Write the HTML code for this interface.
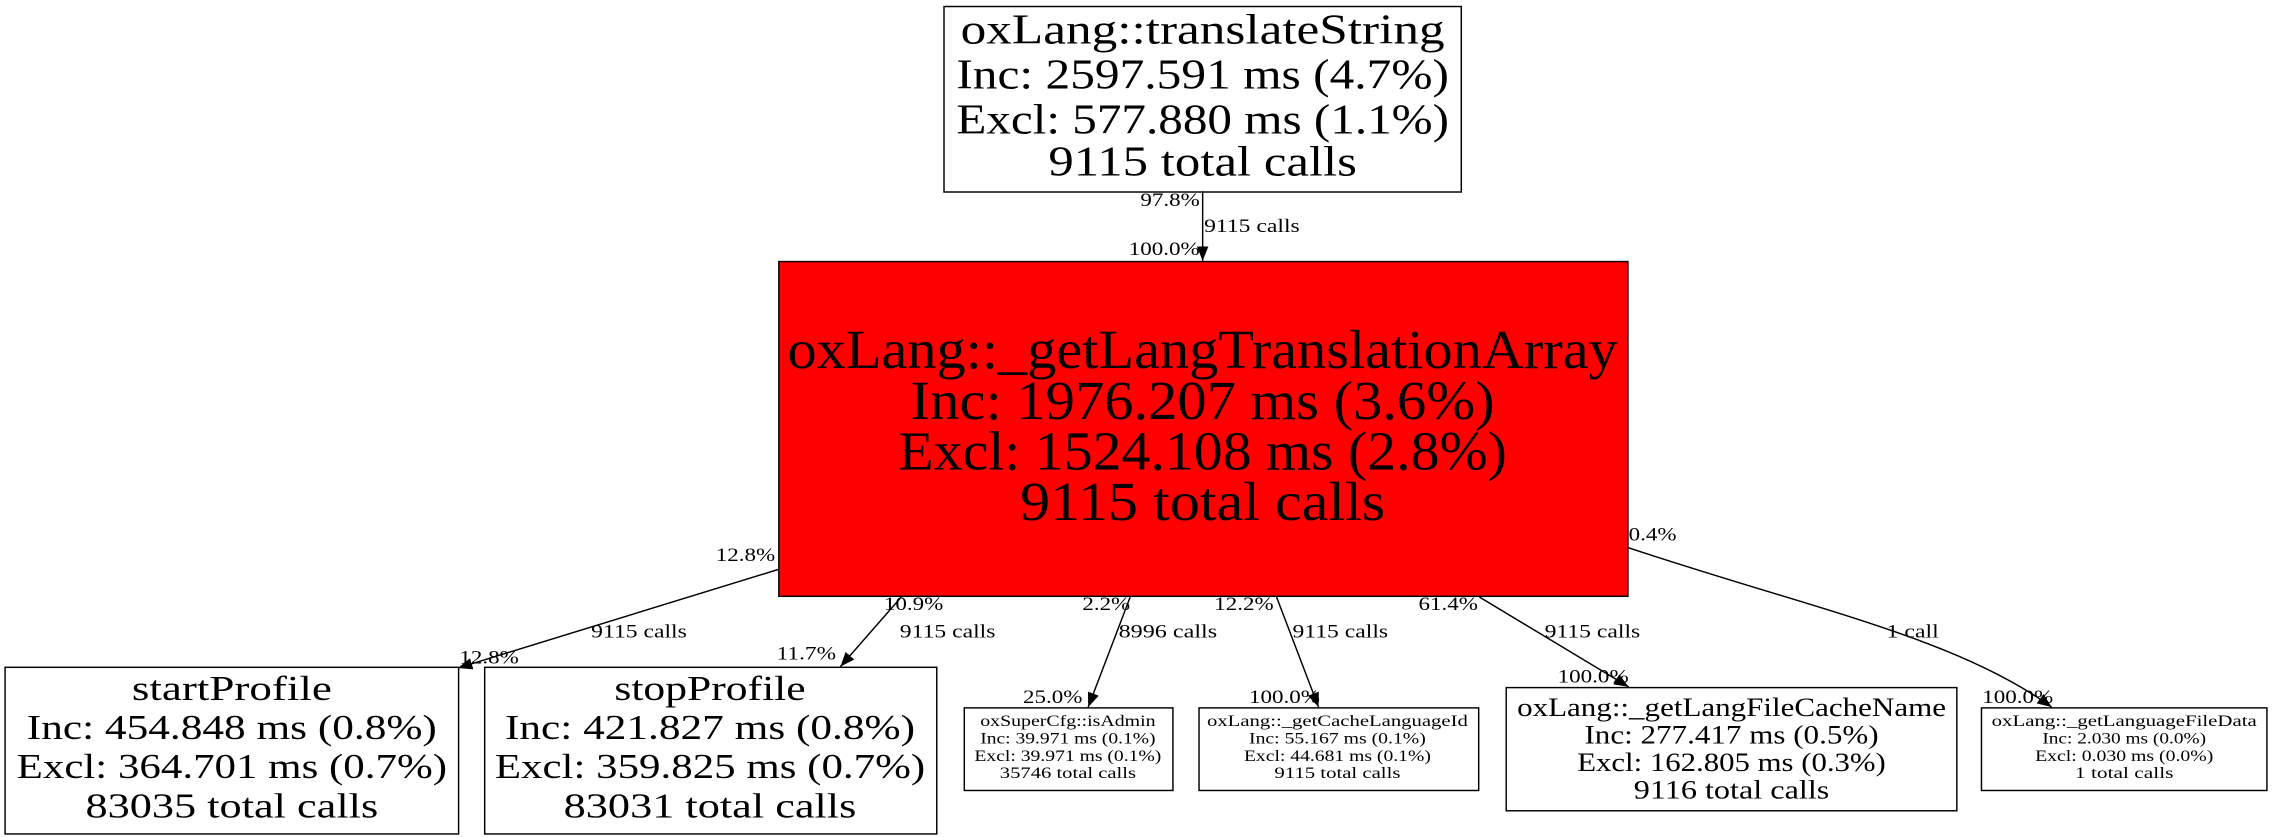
<!DOCTYPE html>
<html><head><meta charset="utf-8"><style>
html,body{margin:0;padding:0;background:#fff;}
svg{display:block;}
text{font-family:"Liberation Serif",serif;fill:#000;}
.b{fill:#fff;stroke:#000;stroke-width:1;}
.e{fill:none;stroke:#000;stroke-width:1;}
</style></head><body>
<svg width="2272" height="837" viewBox="0 0 1568 577.6" preserveAspectRatio="none">
<defs><marker id="a" markerWidth="10" markerHeight="8" refX="10" refY="4" orient="auto" markerUnits="userSpaceOnUse"><path d="M0,0L10,4L0,8z" fill="#000"/></marker></defs>

<rect class="b" x="651.5" y="4.5" width="357" height="128"/>
<g font-size="29" text-anchor="middle" lengthAdjust="spacingAndGlyphs">
<text x="830" y="30" textLength="334" lengthAdjust="spacingAndGlyphs">oxLang::translateString</text>
<text x="830" y="61" textLength="340" lengthAdjust="spacingAndGlyphs">Inc: 2597.591 ms (4.7%)</text>
<text x="830" y="92" textLength="340" lengthAdjust="spacingAndGlyphs">Excl: 577.880 ms (1.1%)</text>
<text x="830" y="121" textLength="213" lengthAdjust="spacingAndGlyphs">9115 total calls</text>
</g>

<rect x="537.5" y="180.5" width="586" height="231" fill="#ff0000" stroke="#000"/>
<g font-size="38" text-anchor="middle">
<text x="830" y="254" textLength="573" lengthAdjust="spacingAndGlyphs">oxLang::_getLangTranslationArray</text>
<text x="830" y="289" textLength="403" lengthAdjust="spacingAndGlyphs">Inc: 1976.207 ms (3.6%)</text>
<text x="830" y="324" textLength="420" lengthAdjust="spacingAndGlyphs">Excl: 1524.108 ms (2.8%)</text>
<text x="830" y="359" textLength="252" lengthAdjust="spacingAndGlyphs">9115 total calls</text>
</g>

<rect class="b" x="3.5" y="460.5" width="313" height="115"/>
<g font-size="24" text-anchor="middle">
<text x="160" y="483" textLength="138" lengthAdjust="spacingAndGlyphs">startProfile</text>
<text x="160" y="510" textLength="283" lengthAdjust="spacingAndGlyphs">Inc: 454.848 ms (0.8%)</text>
<text x="160" y="537" textLength="297" lengthAdjust="spacingAndGlyphs">Excl: 364.701 ms (0.7%)</text>
<text x="160" y="564" textLength="202" lengthAdjust="spacingAndGlyphs">83035 total calls</text>
</g>
<rect class="b" x="334.5" y="460.5" width="312" height="115"/>
<g font-size="24" text-anchor="middle">
<text x="490" y="483" textLength="132" lengthAdjust="spacingAndGlyphs">stopProfile</text>
<text x="490" y="510" textLength="283" lengthAdjust="spacingAndGlyphs">Inc: 421.827 ms (0.8%)</text>
<text x="490" y="537" textLength="297" lengthAdjust="spacingAndGlyphs">Excl: 359.825 ms (0.7%)</text>
<text x="490" y="564" textLength="202" lengthAdjust="spacingAndGlyphs">83031 total calls</text>
</g>

<rect class="b" x="665.5" y="488.5" width="144" height="57"/>
<g font-size="11" text-anchor="middle">
<text x="737" y="501" textLength="121" lengthAdjust="spacingAndGlyphs">oxSuperCfg::isAdmin</text>
<text x="737" y="513" textLength="121" lengthAdjust="spacingAndGlyphs">Inc: 39.971 ms (0.1%)</text>
<text x="737" y="525" textLength="129" lengthAdjust="spacingAndGlyphs">Excl: 39.971 ms (0.1%)</text>
<text x="737" y="537" textLength="94" lengthAdjust="spacingAndGlyphs">35746 total calls</text>
</g>
<rect class="b" x="827.5" y="488.5" width="193" height="57"/>
<g font-size="11" text-anchor="middle">
<text x="923" y="501" textLength="180" lengthAdjust="spacingAndGlyphs">oxLang::_getCacheLanguageId</text>
<text x="923" y="513" textLength="122" lengthAdjust="spacingAndGlyphs">Inc: 55.167 ms (0.1%)</text>
<text x="923" y="525" textLength="129" lengthAdjust="spacingAndGlyphs">Excl: 44.681 ms (0.1%)</text>
<text x="923" y="537" textLength="87" lengthAdjust="spacingAndGlyphs">9115 total calls</text>
</g>
<rect class="b" x="1039.5" y="474.5" width="311" height="85"/>
<g font-size="18" text-anchor="middle">
<text x="1195" y="494" textLength="296" lengthAdjust="spacingAndGlyphs">oxLang::_getLangFileCacheName</text>
<text x="1195" y="513" textLength="203" lengthAdjust="spacingAndGlyphs">Inc: 277.417 ms (0.5%)</text>
<text x="1195" y="532" textLength="213" lengthAdjust="spacingAndGlyphs">Excl: 162.805 ms (0.3%)</text>
<text x="1195" y="551" textLength="135" lengthAdjust="spacingAndGlyphs">9116 total calls</text>
</g>
<rect class="b" x="1367.5" y="488.5" width="197" height="57"/>
<g font-size="11" text-anchor="middle">
<text x="1466" y="501" textLength="183" lengthAdjust="spacingAndGlyphs">oxLang::_getLanguageFileData</text>
<text x="1466" y="513" textLength="113" lengthAdjust="spacingAndGlyphs">Inc: 2.030 ms (0.0%)</text>
<text x="1466" y="525" textLength="123" lengthAdjust="spacingAndGlyphs">Excl: 0.030 ms (0.0%)</text>
<text x="1466" y="537" textLength="68" lengthAdjust="spacingAndGlyphs">1 total calls</text>
</g>

<path class="e" d="M830,132L830,180" marker-end="url(#a)"/>
<path class="e" d="M537,393L316,461" marker-end="url(#a)"/>
<path class="e" d="M622,412L580,460" marker-end="url(#a)"/>
<path class="e" d="M780,412L751,488" marker-end="url(#a)"/>
<path class="e" d="M881,412L910,488" marker-end="url(#a)"/>
<path class="e" d="M1021,412L1124,474" marker-end="url(#a)"/>
<path class="e" d="M1124,378C1250,420 1350,440 1416,488" marker-end="url(#a)"/>

<g font-size="13">
<text x="787" y="142" textLength="41" lengthAdjust="spacingAndGlyphs">97.8%</text>
<text x="831" y="160" textLength="66" lengthAdjust="spacingAndGlyphs">9115 calls</text>
<text x="779" y="176" textLength="49" lengthAdjust="spacingAndGlyphs">100.0%</text>
<text x="494" y="387" textLength="41" lengthAdjust="spacingAndGlyphs">12.8%</text>
<text x="408" y="440" textLength="66" lengthAdjust="spacingAndGlyphs">9115 calls</text>
<text x="317" y="458" textLength="41" lengthAdjust="spacingAndGlyphs">12.8%</text>
<text x="610" y="421" textLength="41" lengthAdjust="spacingAndGlyphs">10.9%</text>
<text x="621" y="440" textLength="66" lengthAdjust="spacingAndGlyphs">9115 calls</text>
<text x="536" y="455" textLength="41" lengthAdjust="spacingAndGlyphs">11.7%</text>
<text x="747" y="421" textLength="33" lengthAdjust="spacingAndGlyphs">2.2%</text>
<text x="772" y="440" textLength="68" lengthAdjust="spacingAndGlyphs">8996 calls</text>
<text x="706" y="485" textLength="41" lengthAdjust="spacingAndGlyphs">25.0%</text>
<text x="838" y="421" textLength="41" lengthAdjust="spacingAndGlyphs">12.2%</text>
<text x="892" y="440" textLength="66" lengthAdjust="spacingAndGlyphs">9115 calls</text>
<text x="862" y="485" textLength="49" lengthAdjust="spacingAndGlyphs">100.0%</text>
<text x="979" y="421" textLength="41" lengthAdjust="spacingAndGlyphs">61.4%</text>
<text x="1066" y="440" textLength="66" lengthAdjust="spacingAndGlyphs">9115 calls</text>
<text x="1075" y="471" textLength="49" lengthAdjust="spacingAndGlyphs">100.0%</text>
<text x="1124" y="373" textLength="33" lengthAdjust="spacingAndGlyphs">0.4%</text>
<text x="1302" y="440" textLength="36" lengthAdjust="spacingAndGlyphs">1 call</text>
<text x="1368" y="485" textLength="49" lengthAdjust="spacingAndGlyphs">100.0%</text>
</g>
</svg>
</body></html>
